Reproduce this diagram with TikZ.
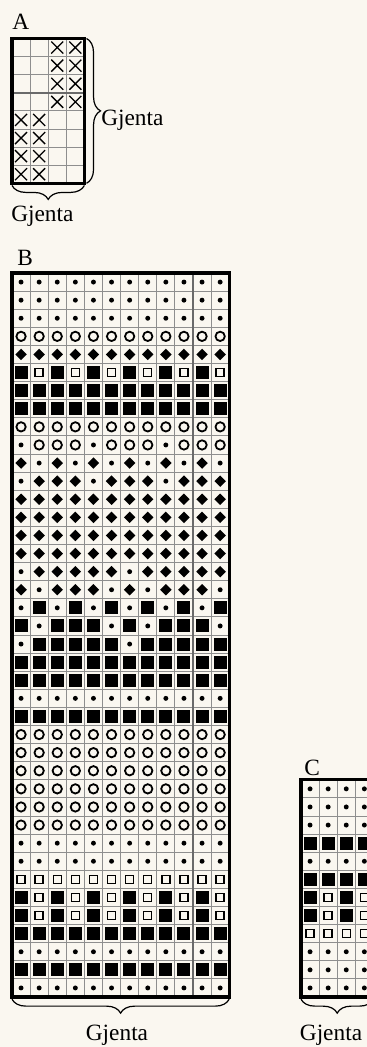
\documentclass[tikz,border=0pt]{standalone}
\usepackage{fontspec}
\setmainfont{Liberation Serif}
\usetikzlibrary{decorations.pathreplacing}

\definecolor{paper}{HTML}{FAF7F0}
\definecolor{gridgray}{HTML}{8E8E8E}
\definecolor{repgray}{HTML}{6A6A6A}

\newcommand{\cellsz}{18.1}
% chart symbols, #1 = column, #2 = row
\newcommand{\symcell}[2]{({(#1-0.5)*\cellsz},{(#2-0.5)*\cellsz})}
\newcommand{\syme}[2]{}
\newcommand{\symp}[2]{\fill \symcell{#1}{#2} circle (1.85pt);}
\newcommand{\symo}[2]{\draw[line width=1.35pt] \symcell{#1}{#2} circle (3.5pt);}
\newcommand{\symd}[2]{\fill \symcell{#1}{#2} +(-4.3pt,0) -- +(0,-4.3pt) -- +(4.3pt,0) -- +(0,4.3pt) -- cycle;}
\newcommand{\syms}[2]{\fill \symcell{#1}{#2} +(-4.9pt,-4.9pt) rectangle +(4.9pt,4.9pt);}
\newcommand{\symq}[2]{\draw[line width=1pt] \symcell{#1}{#2} +(-3pt,-3pt) rectangle +(3pt,3pt);}
\newcommand{\symx}[2]{\draw[line width=1pt] \symcell{#1}{#2} +(-4.5pt,-4.5pt) -- +(4.5pt,4.5pt) \symcell{#1}{#2} +(-4.5pt,4.5pt) -- +(4.5pt,-4.5pt);}

\begin{document}
\begin{tikzpicture}[x=0.75pt, y=-0.75pt,
    gridline/.style={draw=gridgray, line width=0.75pt},
    repline/.style={draw=repgray, line width=1.2pt},
    frameline/.style={draw=black, line width=2.3pt},
    repbrace/.style={decorate, decoration={brace, amplitude=10.5pt}, line width=0.9pt},
    lbl/.style={font=\fontsize{17.5}{20}\selectfont, inner sep=0pt}]

    \useasboundingbox (0,0) rectangle (367,1047);
    \clip (0,0) rectangle (367,1047);
    \fill[paper] (0,0) rectangle (367,1047);

    % Chart A - 4 x 8
    \begin{scope}[shift={(12,38.5)}]
        \foreach \k in {1,...,3} \draw[gridline] ({\k*\cellsz},0) -- ({\k*\cellsz},{8*\cellsz});
        \foreach \r in {1,2,4,5,6,7} \draw[gridline] (0,{\r*\cellsz}) -- ({4*\cellsz},{\r*\cellsz});
        \draw[repline] (0,{3*\cellsz}) -- ({4*\cellsz},{3*\cellsz});
        \foreach \row [count=\r] in {{e,e,x,x},{e,e,x,x},{e,e,x,x},{e,e,x,x},
                                     {x,x,e,e},{x,x,e,e},{x,x,e,e},{x,x,e,e}}
            \foreach \mk [count=\k] in \row {\csname sym\mk\endcsname{\k}{\r}};
        \draw[frameline] (0,0) rectangle ({4*\cellsz},{8*\cellsz});
        \coordinate (A-ne) at ({4*\cellsz},0);
        \coordinate (A-se) at ({4*\cellsz},{8*\cellsz});
        \coordinate (A-sw) at (0,{8*\cellsz});
    \end{scope}

    % Chart B - 12 x 40
    \begin{scope}[shift={(12,273)}]
        \foreach \k in {1,...,9,11} \draw[gridline] ({\k*\cellsz},0) -- ({\k*\cellsz},{40*\cellsz});
        \foreach \r in {1,...,39} \draw[gridline] (0,{\r*\cellsz}) -- ({12*\cellsz},{\r*\cellsz});
        \draw[repline] ({10*\cellsz},0) -- ({10*\cellsz},{40*\cellsz});
        \foreach \row [count=\r] in {
            {p,p,p,p,p,p,p,p,p,p,p,p},{p,p,p,p,p,p,p,p,p,p,p,p},{p,p,p,p,p,p,p,p,p,p,p,p},
            {o,o,o,o,o,o,o,o,o,o,o,o},{d,d,d,d,d,d,d,d,d,d,d,d},{s,q,s,q,s,q,s,q,s,q,s,q},
            {s,s,s,s,s,s,s,s,s,s,s,s},{s,s,s,s,s,s,s,s,s,s,s,s},{o,o,o,o,o,o,o,o,o,o,o,o},
            {p,o,o,o,p,o,o,o,p,o,o,o},{d,p,d,p,d,p,d,p,d,p,d,p},{p,d,d,d,p,d,d,d,p,d,d,d},
            {d,d,d,d,d,d,d,d,d,d,d,d},{d,d,d,d,d,d,d,d,d,d,d,d},{d,d,d,d,d,d,d,d,d,d,d,d},
            {d,d,d,d,d,d,d,d,d,d,d,d},{p,d,d,d,d,d,p,d,d,d,d,d},{d,p,d,d,d,p,d,p,d,d,d,p},
            {p,s,p,s,p,s,p,s,p,s,p,s},{s,p,s,s,s,p,s,p,s,s,s,p},{p,s,s,s,s,s,p,s,s,s,s,s},
            {s,s,s,s,s,s,s,s,s,s,s,s},{s,s,s,s,s,s,s,s,s,s,s,s},{p,p,p,p,p,p,p,p,p,p,p,p},
            {s,s,s,s,s,s,s,s,s,s,s,s},{o,o,o,o,o,o,o,o,o,o,o,o},{o,o,o,o,o,o,o,o,o,o,o,o},
            {o,o,o,o,o,o,o,o,o,o,o,o},{o,o,o,o,o,o,o,o,o,o,o,o},{o,o,o,o,o,o,o,o,o,o,o,o},
            {o,o,o,o,o,o,o,o,o,o,o,o},{p,p,p,p,p,p,p,p,p,p,p,p},{p,p,p,p,p,p,p,p,p,p,p,p},
            {q,q,q,q,q,q,q,q,q,q,q,q},{s,q,s,q,s,q,s,q,s,q,s,q},{s,q,s,q,s,q,s,q,s,q,s,q},
            {s,s,s,s,s,s,s,s,s,s,s,s},{p,p,p,p,p,p,p,p,p,p,p,p},{s,s,s,s,s,s,s,s,s,s,s,s},
            {p,p,p,p,p,p,p,p,p,p,p,p}}
            \foreach \mk [count=\k] in \row {\csname sym\mk\endcsname{\k}{\r}};
        \draw[frameline] (0,0) rectangle ({12*\cellsz},{40*\cellsz});
        \coordinate (B-se) at ({12*\cellsz},{40*\cellsz});
        \coordinate (B-sw) at (0,{40*\cellsz});
    \end{scope}

    % Chart C - 4 x 12 (cut at the page edge)
    \begin{scope}[shift={(301,779.8)}]
        \foreach \k in {1,...,3} \draw[gridline] ({\k*\cellsz},0) -- ({\k*\cellsz},{12*\cellsz});
        \foreach \r in {1,...,11} \draw[gridline] (0,{\r*\cellsz}) -- ({4*\cellsz},{\r*\cellsz});
        \foreach \row [count=\r] in {{p,p,p,p},{p,p,p,p},{p,p,p,p},{s,s,s,s},{p,p,p,p},{s,s,s,s},
                                     {s,q,s,q},{s,q,s,q},{q,q,q,q},{p,p,p,p},{p,p,p,p},{p,p,p,p}}
            \foreach \mk [count=\k] in \row {\csname sym\mk\endcsname{\k}{\r}};
        \draw[frameline] (0,0) rectangle ({4*\cellsz},{12*\cellsz});
        \coordinate (C-se) at ({4*\cellsz},{12*\cellsz});
        \coordinate (C-sw) at (0,{12*\cellsz});
    \end{scope}

    % Braces
    \draw[repbrace] ([xshift=1.6pt]A-ne) -- ([xshift=1.6pt]A-se);
    \draw[repbrace] ([yshift=-1.6pt]A-se) -- ([yshift=-1.6pt]A-sw);
    \draw[repbrace] ([yshift=-1.6pt]B-se) -- ([yshift=-1.6pt]B-sw);
    \draw[repbrace] ([yshift=-1.6pt]C-se) -- ([yshift=-1.6pt]C-sw);

    % Labels
    \node[lbl, anchor=base west] (labA) at (12,29) {A};
    \node[lbl, anchor=base west] (gjA1) at (101,125) {Gjenta};
    \node[lbl, anchor=base west] (gjA2) at (11,221) {Gjenta};
    \node[lbl, anchor=base west] (labB) at (17,265) {B};
    \node[lbl, anchor=base] (gjB) at (117,1040) {Gjenta};
    \node[lbl, anchor=base west] (labC) at (304,775) {C};
    \node[lbl, anchor=base] (gjC) at (331,1040) {Gjenta};

\end{tikzpicture}
\end{document}
